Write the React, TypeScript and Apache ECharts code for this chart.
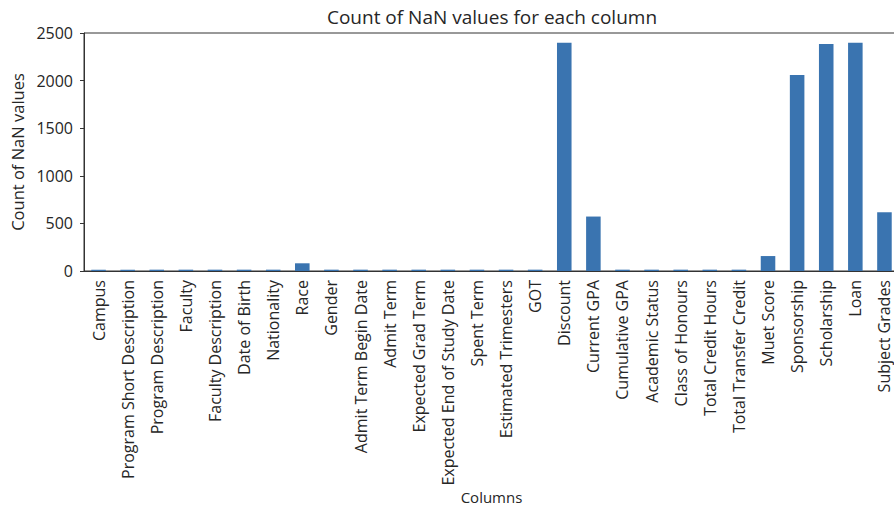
import React, { useEffect, useRef } from "react";
import * as echarts from "echarts";

const categories = [
  "Campus", "Program Short Description", "Program Description", "Faculty",
  "Faculty Description", "Date of Birth", "Nationality", "Race", "Gender",
  "Admit Term Begin Date", "Admit Term", "Expected Grad Term",
  "Expected End of Study Date", "Spent Term", "Estimated Trimesters", "GOT",
  "Discount", "Current GPA", "Cumulative GPA", "Academic Status",
  "Class of Honours", "Total Credit Hours", "Total Transfer Credit",
  "Muet Score", "Sponsorship", "Scholarship", "Loan", "Subject Grades",
];
const nanCounts = [
  14, 14, 14, 14, 14, 14, 14, 81, 14, 14, 14, 14,
  14, 14, 14, 14, 2398, 572, 14, 14, 14, 14, 14,
  157, 2059, 2384, 2398, 617,
];
const yTicks = { min: 0, max: 2500, interval: 500 };

const FONT = "Open Sans";
const INK = "#333333";
const TXT = "#262626";

export default function App() {
  const ref = useRef<HTMLDivElement>(null);
  useEffect(() => {
    if (!ref.current) return;
    const chart = echarts.init(ref.current, undefined, { renderer: "svg" });
    chart.setOption({
      animation: false,
      backgroundColor: "#ffffff",
      textStyle: { fontFamily: FONT },
      graphic: [
        {
          type: "text",
          x: 492,
          y: 17,
          style: {
            text: "Count of NaN values for each column",
            fontFamily: FONT,
            fontSize: 19,
            fill: TXT,
            textAlign: "center",
            textVerticalAlign: "middle",
          },
        },
      ],
      grid: {
        left: 84,
        top: 33,
        width: 815,
        height: 238,
        show: true,
        borderColor: INK,
        borderWidth: 1,
        containLabel: false,
        outerBoundsMode: "none",
      },
      xAxis: {
        type: "category",
        data: categories,
        name: "Columns",
        nameLocation: "middle",
        nameGap: 212,
        nameTextStyle: { fontFamily: FONT, fontSize: 15, color: TXT, lineHeight: 16 },
        axisLine: { lineStyle: { color: INK, width: 1 } },
        axisTick: { alignWithLabel: true, length: 4, lineStyle: { color: INK } },
        axisLabel: {
          rotate: 90,
          interval: 0,
          fontFamily: FONT,
          fontSize: 16,
          color: TXT,
          margin: 9,
        },
      },
      yAxis: {
        type: "value",
        min: yTicks.min,
        max: yTicks.max,
        interval: yTicks.interval,
        name: "Count of NaN values",
        nameLocation: "middle",
        nameRotate: 90,
        nameGap: 56,
        nameTextStyle: { fontFamily: FONT, fontSize: 16.5, color: TXT },
        splitLine: { show: false },
        axisLine: { show: true, lineStyle: { color: INK, width: 1 } },
        axisTick: { show: true, length: 4, lineStyle: { color: INK } },
        axisLabel: {
          fontFamily: FONT,
          fontSize: 16,
          color: TXT,
          margin: 11,
          formatter: (v: number) => String(v),
        },
      },
      series: [
        {
          type: "bar",
          data: nanCounts,
          barWidth: "50%",
          itemStyle: { color: "#3a74b0" },
        },
      ],
    });
    return () => chart.dispose();
  }, []);
  return (
    <div
      ref={ref}
      style={{ position: "fixed", left: 0, top: 0, width: 894, height: 506 }}
    />
  );
}
